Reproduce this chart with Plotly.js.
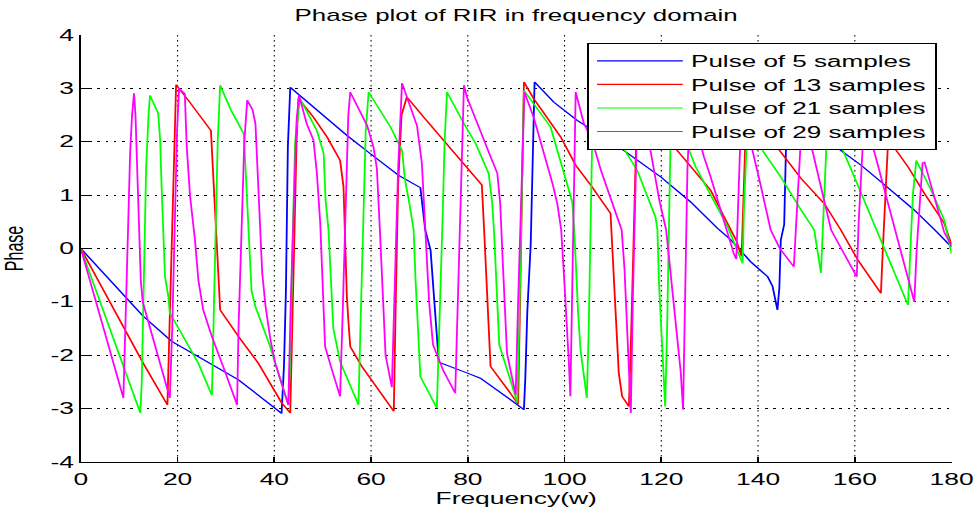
<!DOCTYPE html>
<html><head><meta charset="utf-8">
<script src="https://cdn.plot.ly/plotly-3.0.1.min.js"></script>
<style>
html,body{margin:0;padding:0;background:#fff;overflow:hidden}
#wrap{width:973px;height:509px;overflow:hidden;position:relative}
#plot{width:600px;height:509px;transform:scaleX(1.649153);transform-origin:0 0}
</style></head><body><div id="wrap"><div id="plot"></div></div>
<script>
const seriesNames = ['Pulse of 5 samples','Pulse of 13 samples','Pulse of 21 samples','Pulse of 29 samples'];
const seriesColors = ['#0000ff','#ff0000','#00ff00','#ff00ff'];
const xTicks = [0,20,40,60,80,100,120,140,160,180];
const yTicks = [-4,-3,-2,-1,0,1,2,3,4];

const x5 = [0,9.5,12.9,18.8,27.1,32.6,41.5,42.0,42.4,42.8,43.3,55.0,59.8,65.7,70.2,71.2,72.3,72.9,73.6,74.0,79.8,82.6,88.8,91.6,91.9,92.3,93.0,93.3,93.6,93.8,97.8,102.6,110.2,119.9,126.1,131.6,134.4,136.4,138.5,142.0,143.0,144.0,144.4,144.7,145.4,145.8,146.2,155.1,161.3,165.4,172.3,176.5,180];
const y5 = [0,-0.93,-1.27,-1.74,-2.18,-2.46,-3.09,-2.2,-0.8,1.9,3.02,2.12,1.78,1.37,1.14,0.35,-0.03,-0.9,-1.84,-2.13,-2.33,-2.43,-2.83,-3.02,-2.4,-1.18,0.07,1.28,2.65,3.12,2.74,2.4,1.97,1.34,0.87,0.38,0.16,-0.03,-0.25,-0.53,-0.71,-1.15,-0.74,0.16,0.45,2.0,2.7,1.97,1.56,1.25,0.72,0.35,0.03];

const x13 = [0,9.1,12.9,17.9,18.3,18.8,19.3,19.7,22.2,26.9,27.3,27.7,28.1,28.5,28.8,32.6,36.7,41.5,43.3,43.7,44.2,44.6,45.0,48.1,50.9,53.6,54.3,54.7,55.0,55.3,55.7,58.1,60.5,64.7,65.1,65.6,66.3,67.4,70.9,75.0,79.2,82.9,83.4,83.9,84.3,84.7,88.8,90.4,90.8,91.2,91.6,93.6,99.2,102.3,105.4,109.5,109.9,110.5,111.2,111.9,113.3,113.8,114.3,114.8,115.3,125.4,130.2,133.0,135.5,136.6,137.0,137.3,137.6,143.3,148.9,153.7,157.1,160.6,165.4,165.8,166.3,166.9,171.0,174.4,178.5,180];
const y13 = [0,-1.52,-2.15,-2.93,-1.5,0.0,2.0,3.07,2.78,2.21,1.5,0.9,0.2,-0.6,-1.15,-1.65,-2.15,-2.89,-3.08,-1.5,0.7,2.0,2.81,2.46,2.09,1.65,1.16,-0.2,-0.9,-1.34,-1.84,-2.21,-2.52,-3.05,-1.0,1.2,2.5,2.84,2.46,2.03,1.56,1.19,0.3,-0.7,-1.6,-2.21,-2.71,-2.92,-1.0,1.2,3.12,2.81,2.09,1.56,1.19,0.66,0.0,-1.2,-2.33,-2.77,-2.96,-1.5,0.5,2.0,2.7,1.59,1.09,0.59,0.15,-0.15,1.0,2.0,2.65,1.97,1.31,0.84,0.35,-0.21,-0.84,0.0,1.2,2.05,1.53,1.03,0.47,0.07];

const x21 = [0,12.3,12.6,13.0,13.5,14.0,14.3,16.0,16.4,16.7,17.0,17.4,18.1,18.4,20.8,24.3,27.1,27.4,27.8,28.3,28.8,31.0,33.7,34.0,34.4,34.8,35.3,36.1,39.0,42.9,43.3,43.8,44.3,45.3,48.8,50.2,50.6,51.2,51.6,52.2,53.6,57.4,57.8,58.3,58.9,59.5,64.0,66.4,67.0,68.0,68.8,69.2,69.7,70.2,73.6,74.2,74.8,75.2,75.7,79.2,81.6,84.3,85.0,85.4,85.8,86.3,86.5,89.2,90.2,90.6,91.0,91.3,91.6,97.1,101.6,102.0,102.3,102.8,103.3,103.9,104.6,105.0,105.4,105.7,106.2,111.6,115.0,118.8,119.2,119.5,120.0,120.4,120.8,121.2,121.5,121.9,122.4,127.1,133.7,135.7,136.8,137.1,137.5,137.9,139.9,144.7,148.9,151.6,153.0,153.5,154.0,154.4,159.9,165.0,171.0,171.5,172.0,172.7,175.8,178.5,180];
const y21 = [0,-3.08,-2.5,-0.5,1.5,2.5,2.87,2.53,2.03,1.16,0.28,-0.53,-0.9,-1.21,-1.59,-2.15,-2.75,-1.5,0.5,2.0,3.06,2.6,2.15,1.6,0.5,-0.3,-0.8,-1.09,-1.8,-2.93,-2.0,0.2,2.0,2.81,2.21,1.78,0.9,0.35,-0.6,-1.5,-2.12,-2.93,-1.5,0.5,2.2,2.93,2.28,1.84,1.3,0.8,0.35,-0.6,-1.5,-2.4,-2.99,-1.5,0.6,2.0,2.93,2.34,1.97,1.41,0.9,0.35,-0.6,-1.3,-1.8,-2.58,-2.89,-1.5,0.8,2.0,2.96,2.28,0.87,0.35,-0.3,-1.2,-1.9,-2.3,-2.8,-1.5,0.5,2.0,2.75,1.97,1.47,0.59,0.35,-0.6,-1.5,-2.5,-2.96,-1.5,0.5,2.0,2.6,1.53,0.41,-0.03,-0.28,0.8,2.0,2.5,1.97,1.34,0.72,0.35,-0.46,0.5,1.8,2.5,1.34,0.25,-1.06,0.0,1.0,1.65,1.09,0.53,-0.1];

const x29 = [0,8.8,9.2,9.7,10.2,10.6,11.0,11.3,11.6,12.0,12.4,12.8,15.5,18.4,18.9,19.4,19.9,20.3,21.5,21.9,22.6,23.6,24.3,25.3,27.1,29.8,32.3,32.6,33.2,33.8,34.4,35.5,36.1,36.4,36.8,37.1,37.5,38.2,39.2,40.2,41.6,42.9,43.4,44.0,44.6,45.1,46.7,48.1,48.8,49.5,49.8,50.2,50.5,52.0,53.6,54.2,54.8,55.3,55.7,57.5,59.2,60.5,61.2,61.8,62.4,63.0,64.3,64.8,65.6,66.4,67.5,69.5,70.5,71.3,72.0,72.8,75.0,77.4,77.9,78.5,79.2,79.8,81.9,83.3,84.7,86.1,86.7,87.2,87.6,88.1,88.8,89.5,89.9,90.4,91.0,91.7,93.6,95.0,96.4,97.5,98.5,99.3,99.9,100.6,100.9,101.2,101.6,102.0,102.3,104.0,105.7,107.5,109.5,111.8,112.4,112.8,113.3,113.7,114.1,114.6,115.1,117.5,118.5,119.6,121.0,122.0,123.2,124.0,124.5,124.9,125.4,126.0,128.8,130.2,131.6,133.0,135.0,135.5,135.9,136.4,136.8,138.5,140.5,142.6,144.5,147.4,147.9,148.4,149.0,149.5,150.9,155.1,157.8,160.4,160.8,161.3,161.8,162.3,165.0,168.0,170.5,172.3,172.8,173.4,174.0,174.4,176.5,178.5,180];
const y29 = [0,-2.8,-1.5,0.5,1.8,2.5,2.91,2.5,1.6,0.5,-0.6,-1.0,-1.9,-2.8,-1.5,0.5,2.2,3.0,2.9,1.9,0.97,0.16,-0.59,-1.15,-1.65,-2.3,-2.93,-1.5,0.5,2.0,2.78,2.6,2.34,1.78,0.97,0.16,-0.46,-1.09,-1.71,-2.15,-2.58,-2.93,-1.0,1.0,2.4,2.87,2.34,2.03,1.41,0.47,-0.4,-1.34,-1.84,-2.3,-2.77,-1.0,1.2,2.5,2.93,2.6,2.3,1.9,1.5,0.4,-0.8,-2.0,-2.6,-1.0,1.5,3.1,2.8,2.3,1.6,0.3,-1.0,-1.8,-2.3,-2.71,-1.0,1.5,3.06,2.84,2.34,2.03,1.72,1.41,0.84,-0.2,-0.9,-1.96,-2.27,-2.58,-2.74,-1.0,1.2,2.93,2.46,2.03,1.59,1.22,0.84,0.35,-0.53,-1.52,-2.15,-2.77,-1.0,1.5,2.93,2.34,2.03,1.47,0.97,0.35,-0.4,-1.34,-2.02,-3.08,-1.0,1.5,2.8,1.97,1.47,0.9,0.35,-0.5,-1.5,-2.3,-3.02,-1.0,1.5,2.7,1.72,1.34,0.91,0.47,-0.1,-0.2,1.0,2.2,2.5,1.97,1.2,0.35,0.0,-0.34,0.5,1.5,2.3,2.5,1.97,0.35,-0.1,-0.53,0.5,1.5,2.2,2.4,1.5,0.5,-0.4,-1.0,0.0,1.0,1.6,1.62,0.9,0.3,0.05];

const xs = [x5,x13,x21,x29];
const ys = [y5,y13,y21,y29];
const FONT = '"Liberation Sans", Arial, sans-serif';
const TICKFONT = '"Liberation Sans Narrow", "Arial Narrow", "Liberation Sans", Arial, sans-serif';

const traces = xs.map((x,i)=>({
  type:'scatter', mode:'lines', x:x, y:ys[i], name:seriesNames[i],
  line:{color:seriesColors[i], width:1.1}
}));

const axisCommon = {
  showline:true, linecolor:'#000', linewidth:1, mirror:false,
  ticks:'inside', ticklen:5, tickcolor:'#000', tickwidth:1,
  showgrid:true, gridcolor:'#000',
  zeroline:false, tickfont:{family:TICKFONT, size:16, color:'#000'}
};

const layout = {
  width:600, height:509,
  margin:{l:49, r:22.8, t:35, b:47},
  paper_bgcolor:'#fff', plot_bgcolor:'#fff',
  font:{family:FONT, size:15, color:'#000'},
  title:{text:'Phase plot of RIR in frequency domain', x:0.5, xref:'paper', xanchor:'center', y:1-16/509, yref:'container', yanchor:'middle', font:{family:FONT, size:15.7, color:'#000'}},
  xaxis:Object.assign({}, axisCommon, {range:[0,180], tickvals:xTicks, ticktext:xTicks.map(String), ticklabelstandoff:3, ticklabeloverflow:'allow', gridwidth:0.65, griddash:'1.5px,3.5px', title:{text:'Frequency(w)', font:{family:FONT, size:16}, standoff:5}}),
  yaxis:Object.assign({}, axisCommon, {range:[-4,4], tickvals:yTicks, ticktext:yTicks.map(String), gridwidth:1, griddash:'1.5px,3.5px', title:{text:'Phase', font:{family:FONT, size:16}, standoff:13}}),
  legend:{x:0.983, xanchor:'right', y:0.981, yanchor:'top', bgcolor:'#fff', bordercolor:'#000', borderwidth:1, font:{family:FONT, size:15.8, color:'#000'}, itemwidth:52, tracegroupgap:0},
  showlegend:true
};

Plotly.newPlot('plot', traces, layout, {displayModeBar:false, staticPlot:true});
</script></body></html>
